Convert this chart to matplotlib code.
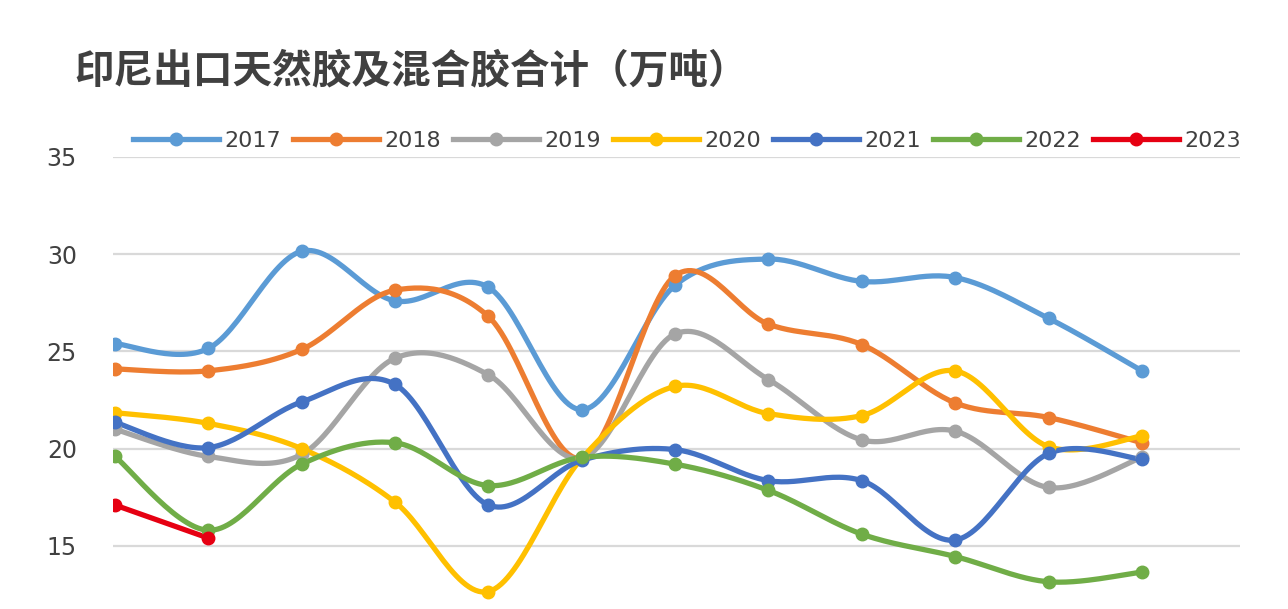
import matplotlib.pyplot as plt
import numpy as np

plt.rcParams['font.family'] = ['Noto Sans CJK SC', 'DejaVu Sans']

# 印尼出口天然胶及混合胶合计，单位万吨，1-12月
months = list(range(1, 13))
y2017 = [25.4, 25.15, 30.15, 27.6, 28.3, 22.0, 28.4, 29.75, 28.6, 28.8, 26.7, 24.0]
y2018 = [24.1, 24.0, 25.1, 28.15, 26.8, 19.5, 28.9, 26.4, 25.35, 22.35, 21.6, 20.3]
y2019 = [21.0, 19.6, 19.7, 24.65, 23.8, 19.5, 25.9, 23.55, 20.45, 20.9, 18.0, 19.55]
y2020 = [21.85, 21.3, 20.0, 17.25, 12.65, 19.5, 23.2, 21.8, 21.7, 24.0, 20.1, 20.65]
y2021 = [21.35, 20.05, 22.4, 23.3, 17.1, 19.4, 19.95, 18.35, 18.35, 15.3, 19.75, 19.45]
y2022 = [19.6, 15.8, 19.2, 20.3, 18.1, 19.55, 19.2, 17.85, 15.6, 14.45, 13.15, 13.65]
y2023 = [17.1, 15.4]

years = ['2017', '2018', '2019', '2020', '2021', '2022', '2023']
series = [y2017, y2018, y2019, y2020, y2021, y2022, y2023]
colors = ['#5B9BD5', '#ED7D31', '#A5A5A5', '#FFC000', '#4472C4', '#70AD47', '#E60012']


def smooth(x, y, n=30):
    # Bezier smoothing through every point (Excel-style smoothed line)
    x = np.asarray(x, float)
    y = np.asarray(y, float)
    if len(x) < 3:
        return x, y
    px = np.concatenate([[x[0]], x, [x[-1]]])
    py = np.concatenate([[y[0]], y, [y[-1]]])
    xs, ys = [], []
    t = np.linspace(0, 1, n)
    for i in range(1, len(px) - 2):
        p0 = np.array([px[i], py[i]])
        p3 = np.array([px[i + 1], py[i + 1]])
        c1 = p0 + (np.array([px[i + 1], py[i + 1]]) - np.array([px[i - 1], py[i - 1]])) / 6
        c2 = p3 - (np.array([px[i + 2], py[i + 2]]) - np.array([px[i], py[i]])) / 6
        b = ((1 - t) ** 3)[:, None] * p0 + (3 * (1 - t) ** 2 * t)[:, None] * c1 \
            + (3 * (1 - t) * t ** 2)[:, None] * c2 + (t ** 3)[:, None] * p3
        xs.extend(b[:, 0])
        ys.extend(b[:, 1])
    return np.array(xs), np.array(ys)


fig = plt.figure(figsize=(12.88, 6.09), dpi=100)
ax = fig.add_axes([113 / 1288, 0.0, (1240 - 113) / 1288, 452 / 609])

for name, vals, c in zip(years, series, colors):
    xv = months[:len(vals)]
    sx, sy = smooth(xv, vals)
    ax.plot(sx, sy, color=c, lw=3.8, solid_capstyle='round', zorder=3)
    ax.plot(xv, vals, 'o', color=c, ms=9, zorder=4)
    # legend proxy
    ax.plot([], [], color=c, lw=3.8, marker='o', ms=9, label=name)

ax.set_xlim(0.98, 13.05)
ax.set_ylim(11.75, 35)
ax.set_yticks([15, 20, 25, 30, 35])
ax.set_xticks([])
ax.grid(axis='y', color='#D9D9D9', lw=1.6, zorder=0)
ax.set_axisbelow(True)
for s in ax.spines.values():
    s.set_visible(False)
ax.tick_params(axis='y', length=0, pad=26, labelsize=17, labelcolor='#404040')
for lbl in ax.get_yticklabels():
    lbl.set_family('DejaVu Sans')

fig.text(74 / 1288, 1 - 71 / 609, '印尼出口天然胶及混合胶合计（万吨）', fontsize=28.5,
         fontweight='bold', color='#404040', ha='left', va='center')

fig.legend(loc='center', bbox_to_anchor=(687 / 1288, 1 - 141 / 609), ncol=7,
           frameon=False, handlelength=3.9, handletextpad=0.25, columnspacing=0.5,
           prop={'family': 'DejaVu Sans', 'size': 16}, labelcolor='#404040')

fig.savefig('out.png', dpi=100, facecolor='white')
